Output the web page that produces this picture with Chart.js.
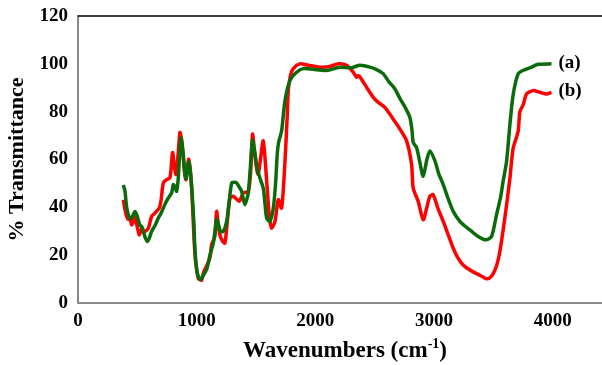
<!DOCTYPE html>
<html>
<head>
<meta charset="utf-8">
<script src="https://cdn.jsdelivr.net/npm/chart.js@4"></script>
<style>
  html, body { margin: 0; padding: 0; background: #fff; overflow: hidden; }
  #wrap { width: 612px; height: 365px; }
</style>
</head>
<body>
<div id="wrap"><canvas id="ftirChart" width="612" height="365"></canvas></div>
<script>
// sample (a), green
const waveA = [382, 395, 410, 424, 438, 452, 466, 480, 494, 508, 522, 536, 550, 565, 584, 600, 620, 650, 677, 700,
    719, 740, 761, 789, 803, 818, 831, 845, 859, 870, 887, 900, 912, 932, 945, 960, 975, 986, 1000, 1014,
    1030, 1056, 1084, 1112, 1126, 1140, 1154, 1168, 1182, 1200, 1224, 1253, 1275, 1295, 1315, 1337, 1358, 1379, 1395, 1407,
    1420, 1435, 1450, 1470, 1490, 1510, 1533, 1561, 1575, 1590, 1617, 1646, 1665, 1679, 1690, 1716, 1744, 1786, 1842, 1898,
    1982, 2050, 2109, 2160, 2207, 2306, 2376, 2460, 2520, 2572, 2620, 2671, 2713, 2755, 2797, 2815, 2825, 2853, 2880, 2909,
    2940, 2965, 3008, 3040, 3078, 3120, 3162, 3218, 3260, 3302, 3372, 3437, 3485, 3527, 3560, 3583, 3612, 3640, 3668, 3710,
    3752, 3822, 3878, 3990];
const transA = [49.3, 47, 40, 36.9, 35.5, 35.5, 37, 38.3, 37, 34.8, 32.5, 32, 30, 27.5, 25.7, 27, 29.9, 32.5, 35.5, 37.5,
    39.7, 42, 43.9, 46, 49.5, 48.5, 46.7, 52.3, 64, 69, 62, 54, 52, 59, 56, 47, 35, 22, 14, 11,
    9.8, 11.6, 14, 20, 22.5, 25, 29.9, 35, 33, 30, 29.9, 34.1, 43, 50.2, 50.5, 50.2, 48.5, 46.7, 43, 41.1,
    43, 46, 55, 68, 63, 56, 52.3, 48, 42, 35.5, 34.1, 39.7, 50, 62.2, 67, 72, 84.6, 93, 96.5, 98,
    97.7, 97.3, 97.3, 98, 98.6, 98.4, 99.4, 98.6, 97.5, 95.9, 92.5, 89.5, 85.5, 82, 77.6, 72, 67.1, 65, 59, 53,
    60, 63.6, 59.4, 54, 49.5, 43.5, 38.3, 34.1, 32.2, 30.6, 27.8, 26.4, 27.8, 36.9, 44, 51, 59.4, 74.8, 87.4, 95.9,
    97.3, 98.6, 99.8, 100];

// sample (b), red
const waveB = [382, 396, 410, 424, 438, 452, 466, 480, 494, 508, 517, 536, 550, 565, 593, 620, 649, 685, 700, 719,
    747, 775, 797, 812, 826, 845, 859, 873, 887, 900, 910, 932, 945, 958, 972, 986, 1000, 1014, 1028, 1042,
    1060, 1084, 1112, 1126, 1140, 1154, 1168, 1182, 1196, 1217, 1238, 1260, 1281, 1309, 1335, 1359, 1375, 1393, 1435, 1455,
    1471, 1490, 1510, 1519, 1540, 1561, 1580, 1604, 1618, 1632, 1660, 1688, 1716, 1744, 1763, 1772, 1790, 1814, 1870, 1940,
    2039, 2123, 2193, 2263, 2319, 2347, 2362, 2376, 2432, 2488, 2530, 2586, 2656, 2713, 2769, 2811, 2825, 2867, 2909, 2940,
    2965, 2993, 3030, 3078, 3120, 3162, 3200, 3246, 3290, 3330, 3390, 3437, 3470, 3499, 3530, 3555, 3597, 3640, 3655, 3668,
    3690, 3710, 3724, 3752, 3780, 3836, 3892, 3948, 3990];
const transB = [43.2, 39, 36.2, 35, 35.5, 32.7, 34, 36.2, 33, 30, 28.5, 31, 30.5, 29.9, 31.3, 36.2, 37.6, 39.7, 43, 50.2,
    51.6, 52.3, 62.9, 57, 53.8, 63, 71.3, 68, 60.8, 54, 51.6, 60.1, 56, 48, 33, 20, 14, 10.2, 9.8, 9.5,
    13, 15.5, 19, 24.5, 26, 28, 38.3, 33, 28.5, 26, 25, 35, 43.9, 44.6, 43.5, 42.5, 44, 46, 46.7, 55,
    70.6, 62, 55, 53.8, 61, 67.8, 58, 41.1, 34, 31.3, 34.1, 43.2, 39.7, 59, 78, 88.8, 95, 98, 100, 99.4,
    98.6, 98.9, 100, 99.4, 96.5, 94.4, 95, 94.5, 90.2, 86, 83.9, 81.8, 76.9, 72.7, 67.8, 58, 48, 42.5, 34.8, 40,
    44.6, 45.3, 40, 34.1, 28.5, 22.9, 19, 15.9, 14.2, 13, 11.5, 10.2, 10.5, 12.3, 16, 21.5, 35.5, 52.3, 60, 65,
    68.5, 72, 80, 83, 87.4, 88.8, 88.1, 87.4, 88.1];

const seriesLabels = ['(a)', '(b)'];
const xTicks = [0, 1000, 2000, 3000, 4000];
const xTitle = ['Wavenumbers (cm', '-1', ')'];

function toPoints(xs, ys) {
    return xs.map((x, i) => ({ x: x, y: ys[i] }));
}

const serif = "'Liberation Serif', 'Times New Roman', serif";

// top frame line, x title with superscript, (a)/(b) labels at curve ends
const extras = {
    id: 'extras',
    afterDatasetsDraw(chart) {
        const ctx = chart.ctx;
        const area = chart.chartArea;
        ctx.save();
        ctx.strokeStyle = '#000';
        ctx.lineWidth = 1.5;
        ctx.beginPath();
        ctx.moveTo(area.left, area.top);
        ctx.lineTo(area.right, area.top);
        ctx.stroke();

        ctx.fillStyle = '#000';
        ctx.font = 'bold 19px ' + serif;
        ctx.textBaseline = 'middle';
        ctx.textAlign = 'left';
        chart.data.datasets.forEach((ds, i) => {
            const meta = chart.getDatasetMeta(i);
            const last = meta.data[meta.data.length - 1];
            ctx.fillText(seriesLabels[i], last.x + 7, last.y - 1);
        });

        // x axis title
        const big = 'bold 23px ' + serif;
        const small = 'bold 14px ' + serif;
        ctx.textBaseline = 'alphabetic';
        ctx.font = big;
        const w1 = ctx.measureText(xTitle[0]).width;
        const w3 = ctx.measureText(xTitle[2]).width;
        ctx.font = small;
        const w2 = ctx.measureText(xTitle[1]).width;
        let x = (area.left + area.right) / 2 - (w1 + w2 + w3) / 2;
        const base = 357;
        ctx.font = big;
        ctx.fillText(xTitle[0], x, base);
        x += w1;
        ctx.font = small;
        ctx.fillText(xTitle[1], x, base - 9);
        x += w2;
        ctx.font = big;
        ctx.fillText(xTitle[2], x, base);
        ctx.restore();
    }
};

const config = {
    type: 'line',
    data: {
        datasets: [{
            label: seriesLabels[0],
            data: toPoints(waveA, transA),
            borderColor: '#0b6b0b',
            borderWidth: 3.5,
            pointRadius: 0,
            tension: 0.25,
            fill: false
        }, {
            label: seriesLabels[1],
            data: toPoints(waveB, transB),
            borderColor: '#ff0000',
            borderWidth: 3.5,
            pointRadius: 0,
            tension: 0.25,
            fill: false
        }]
    },
    options: {
        responsive: false,
        animation: false,
        layout: { padding: { top: 16, right: 0, left: 0, bottom: 0 } },
        plugins: {
            legend: { display: false },
            tooltip: { enabled: false }
        },
        scales: {
            x: {
                type: 'linear',
                min: 0,
                max: 4500,
                afterBuildTicks(scale) {
                    scale.ticks = xTicks.map(v => ({ value: v }));
                },
                afterFit(scale) { scale.height = 62; },
                grid: { display: false, drawTicks: false },
                border: { display: true, color: '#888', width: 2 },
                ticks: {
                    color: '#000',
                    padding: 7,
                    maxRotation: 0,
                    callback: v => String(v),
                    font: { family: serif, size: 19, weight: 'bold' }
                },
                title: { display: false }
            },
            y: {
                min: 0,
                max: 120,
                ticks: {
                    stepSize: 20,
                    color: '#000',
                    padding: 10,
                    callback: v => String(v),
                    font: { family: serif, size: 19, weight: 'bold' }
                },
                afterFit(scale) {
                    scale.width = 78;
                    scale.paddingTop = 0;
                    scale.paddingBottom = 0;
                },
                grid: { display: false, drawTicks: false },
                border: { display: true, color: '#888', width: 2 },
                title: {
                    display: true,
                    text: '% Transmittance',
                    color: '#000',
                    padding: { top: 4, bottom: 0 },
                    font: { family: serif, size: 22, weight: 'bold' }
                }
            }
        }
    },
    plugins: [extras]
};

window.onload = function() {
    const ctx = document.getElementById('ftirChart').getContext('2d');
    new Chart(ctx, config);
};
</script>
</body>
</html>
